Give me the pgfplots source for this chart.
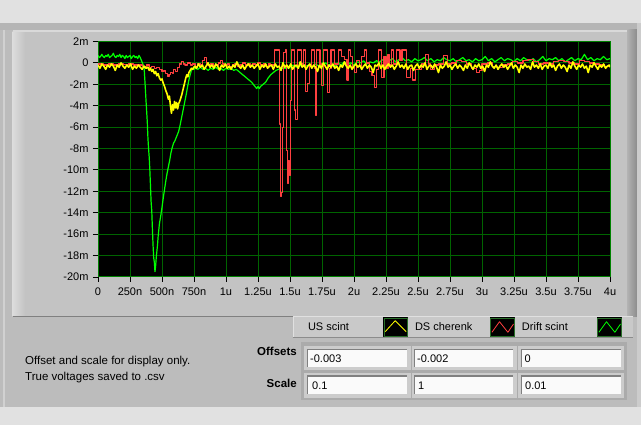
\documentclass[border=0pt]{standalone}
\usepackage{pgfplots}
\usepackage{pgfplotstable}
\pgfplotsset{compat=1.18}
\usepackage{fontspec}
\setmainfont{Liberation Sans}
\definecolor{lvbg}{RGB}{225,225,225}
\definecolor{lvpanel}{RGB}{188,188,188}
\definecolor{lvframe}{RGB}{195,195,195}
\definecolor{lvgrid}{RGB}{0,100,0}
\definecolor{lvborder}{RGB}{0,130,0}
\definecolor{lvyellow}{RGB}{255,255,0}
\definecolor{lvred}{RGB}{255,64,64}
\definecolor{lvgreen}{RGB}{0,255,0}
\definecolor{swatchedge}{RGB}{40,110,40}

\pgfplotstableread{
x y
0 0.7
10 0.5
20 0.6
30 0.8
40 0.6
50 0.5
60 0.7
70 0.6
80 0.8
90 0.5
100 0.6
110 0.7
120 0.9
130 0.6
140 0.5
150 0.7
160 0.6
170 0.8
180 0.5
190 0.7
200 0.6
210 0.4
220 0.7
230 0.5
240 0.6
250 0.7
260 0.4
270 0.6
280 0.7
290 0.5
300 0.6
310 0.4
320 0.7
330 0.5
340 0.2
350 -0.1
360 -0.4
368 -2.0
375 -3.5
380 -4.5
385 -5.5
390 -7.0
395 -8.0
400 -8.8
405 -10.0
410 -11.5
415 -13.0
420 -13.8
425 -15.5
430 -17.0
435 -18.2
440 -18.6
445 -19.5
450 -19.0
455 -18.2
460 -17.6
465 -17.0
470 -16.2
480 -15.0
490 -14.3
500 -13.5
510 -12.6
520 -11.8
530 -11.0
540 -10.3
550 -9.7
560 -9.1
570 -8.4
580 -7.9
590 -7.5
600 -7.3
610 -7.0
620 -6.7
630 -6.4
640 -5.9
650 -5.3
660 -4.7
670 -4.1
680 -3.5
690 -2.9
700 -2.2
710 -1.6
720 -1.1
730 -0.7
740 -0.5
750 -0.6
760 -0.5
780 -0.6
800 -0.4
820 -0.6
840 -0.5
860 -0.7
880 -0.5
900 -0.6
920 -0.4
940 -0.6
960 -0.5
980 -0.7
1000 -0.5
1020 -0.6
1040 -0.5
1060 -0.7
1080 -0.6
1100 -0.8
1120 -1.0
1140 -1.2
1160 -1.4
1180 -1.6
1200 -1.8
1220 -2.1
1240 -2.4
1250 -2.2
1260 -2.4
1270 -2.2
1290 -2.0
1310 -1.8
1330 -1.4
1350 -1.1
1370 -0.9
1390 -0.7
1410 -0.6
1440 -0.5
1470 -0.5
1500 -0.4
1525 -0.2
1550 -0.4
1575 -0.3
1600 -0.1
1625 -0.3
1650 -0.2
1675 -0.4
1700 -0.1
1725 -0.3
1750 -0.2
1775 0.0
1800 -0.2
1825 -0.1
1850 -0.3
1875 0.0
1900 -0.2
1925 0.1
1950 -0.1
1975 0.0
2000 -0.2
2025 0.1
2050 0.0
2075 0.2
2100 -0.1
2125 0.1
2150 0.0
2175 0.2
2200 0.1
2225 0.3
2250 0.0
2275 0.2
2300 0.4
2325 0.1
2350 0.3
2375 0.5
2400 0.2
2425 0.3
2450 0.1
2475 0.4
2500 0.2
2525 0.3
2550 0.5
2575 0.2
2600 0.4
2625 0.1
2650 0.3
2675 0.2
2700 0.5
2725 0.3
2750 0.2
2775 0.4
2800 0.1
2825 0.3
2850 0.5
2875 0.2
2900 0.3
2925 0.1
2950 0.4
2975 0.2
3000 0.3
3025 0.6
3050 0.2
3075 0.4
3100 0.1
3125 0.3
3150 0.5
3175 0.2
3200 0.4
3225 0.3
3250 0.1
3275 0.4
3300 0.2
3325 0.5
3350 0.3
3375 0.2
3400 0.4
3425 0.1
3450 0.3
3475 0.6
3500 0.2
3525 0.4
3550 0.3
3575 0.5
3600 0.2
3625 0.4
3650 0.1
3675 0.3
3700 0.5
3725 0.2
3750 0.4
3775 0.3
3800 0.8
3825 0.3
3850 0.5
3875 0.2
3900 0.4
3925 0.3
3950 0.6
3975 0.3
4000 0.4
}\greendata

\pgfplotstableread{
x y
0 -0.1
40 -0.2
80 -0.1
120 -0.2
160 -0.1
200 -0.15
240 -0.1
280 -0.2
320 -0.2
350 -0.3
380 -0.2
400 -0.4
420 -0.3
440 -0.5
460 -0.4
480 -0.6
500 -0.8
515 -0.7
530 -1.0
545 -1.3
555 -1.1
565 -0.9
580 -1.0
590 -0.6
605 -0.8
620 -0.4
635 -0.1
650 0.1
665 -0.1
680 -0.2
700 0.0
720 -0.2
740 -0.1
760 -0.3
780 -0.1
800 -0.2
815 0.2
830 0.5
845 0.0
860 -0.2
880 -0.1
900 -0.3
920 -0.2
940 0.0
955 0.2
970 -0.1
990 -0.2
1010 -0.1
1030 -0.3
1050 -0.2
1070 -0.1
1090 -0.3
1110 -0.2
1130 0.0
1150 -0.2
1170 -0.1
1190 -0.3
1210 -0.1
1230 -0.2
1250 0.0
1270 -0.2
1290 -0.1
1310 -0.3
1330 -0.1
1350 -0.2
1377 1.2
1416 -5.7
1424 -12.5
1432 -12.1
1440 -6.0
1448 1.0
1462 1.2
1472 -8.2
1478 -11.3
1486 -9.1
1494 -10.5
1502 -3.5
1512 1.2
1536 -4.4
1546 -5.3
1558 1.2
1590 -0.1
1604 1.2
1624 -2.7
1638 -1.9
1650 -0.3
1668 1.2
1690 -0.5
1698 -4.9
1708 1.2
1735 -0.1
1748 -2.1
1760 1.2
1795 -2.8
1806 -0.5
1820 1.2
1850 -0.1
1876 1.2
1900 0.6
1925 0.3
1945 -1.6
1955 1.2
1975 0.6
1990 -0.4
2005 -0.9
2020 0.2
2040 -0.3
2060 0.6
2080 1.2
2100 0.0
2120 -0.8
2140 -1.2
2160 -2.3
2175 -0.6
2190 1.2
2215 -1.4
2235 0.6
2250 -0.5
2265 0.8
2280 -0.2
2290 1.2
2310 -0.1
2330 1.2
2360 0.2
2375 1.2
2410 -1.4
2440 -0.5
2460 -1.6
2480 -0.6
2530 -0.1
2560 0.8
2580 -0.1
2600 -0.6
2630 -0.2
2660 -0.1
2700 0.7
2730 -0.1
2760 0.0
2800 0.2
2840 0.1
2880 -0.1
2920 -0.5
2960 -0.9
2980 -0.7
3000 -0.1
3040 0.0
3080 -0.3
3120 -0.4
3160 -0.2
3200 -0.1
3240 0.1
3280 0.0
3320 0.2
3360 0.3
3400 0.1
3440 -0.1
3480 0.0
3520 -0.1
3560 0.1
3600 0.2
3640 0.1
3680 0.0
3720 -0.1
3760 0.2
3800 0.1
3840 0.0
3880 -0.1
3920 -0.2
3960 -0.3
4000 -0.3
}\reddata

\pgfplotstableread{
x y
0 -0.2
15 -0.5
30 -0.1
45 -0.3
60 -0.6
75 -0.2
90 -0.4
105 -0.1
120 -0.3
135 -0.7
150 -0.2
165 -0.4
180 0.0
195 -0.3
210 -0.5
225 -0.2
240 -0.4
255 -0.1
270 -0.6
285 -0.3
300 -0.5
315 -0.2
330 -0.4
345 -0.6
360 -0.3
375 -0.5
390 -0.4
400 -0.7
410 -0.5
420 -0.8
430 -0.6
440 -1.0
450 -0.8
460 -1.2
470 -1.0
480 -1.4
490 -1.6
500 -1.5
510 -1.9
520 -2.2
530 -2.6
540 -2.9
550 -3.4
558 -3.1
566 -4.0
574 -4.7
582 -3.9
590 -4.4
598 -3.6
606 -4.2
614 -3.7
622 -4.3
630 -3.8
638 -3.6
646 -3.3
654 -3.0
662 -2.6
670 -2.2
678 -1.8
686 -1.4
694 -1.1
702 -1.3
710 -0.9
720 -0.7
730 -0.5
740 -0.6
755 -0.3
770 -0.5
785 -0.1
800 -0.4
815 -0.2
830 -0.6
845 -0.3
860 0.0
875 -0.4
890 -0.2
905 -0.5
920 -0.1
935 -0.3
950 -0.7
965 -0.2
980 -0.4
995 -0.1
1010 -0.5
1025 -0.3
1040 -0.6
1055 -0.2
1070 -0.4
1085 0.1
1100 -0.3
1115 -0.5
1130 -0.2
1145 -0.6
1160 -0.3
1175 -0.1
1190 -0.4
1205 -0.2
1220 -0.5
1235 -0.3
1250 -0.1
1265 -0.6
1280 -0.2
1295 -0.4
1310 -0.1
1325 -0.5
1340 -0.3
1355 -0.2
1370 -0.6
1385 -0.1
1400 -0.4
1415 -0.3
1430 -0.7
1445 0.0
1460 -0.4
1475 -0.2
1490 -0.5
1505 -0.1
1520 -0.6
1535 -0.3
1550 -0.2
1565 -0.5
1580 0.1
1595 -0.4
1610 -0.2
1625 -0.6
1640 -0.3
1655 -0.1
1670 -0.5
1685 -0.2
1700 -0.4
1715 -0.8
1730 -0.2
1745 -0.5
1760 0.0
1775 -0.3
1790 -0.6
1805 -0.2
1820 -0.4
1835 -0.1
1850 -0.5
1865 -0.3
1880 -0.7
1895 -0.2
1910 -0.4
1925 0.1
1940 -0.3
1955 -0.5
1970 -0.2
1985 -0.6
2000 -0.3
2015 -0.1
2030 -0.4
2045 -0.2
2060 -0.6
2075 -0.3
2090 -0.1
2105 -0.5
2120 -0.2
2135 -0.4
2150 -0.9
2165 -0.2
2180 -0.3
2195 0.0
2210 -0.5
2225 -0.2
2240 -0.6
2255 -0.3
2270 -0.1
2285 -0.4
2300 -0.2
2315 -0.6
2330 -0.3
2345 0.1
2360 -0.4
2375 -0.2
2390 -0.5
2405 -0.1
2420 -0.6
2435 -0.3
2450 -0.2
2465 -0.7
2480 -0.3
2495 -0.1
2510 -0.5
2525 -0.2
2540 -0.4
2555 0.0
2570 -0.6
2585 -0.3
2600 -0.2
2615 -0.5
2630 -0.1
2645 -0.4
2660 -0.9
2675 -0.2
2690 -0.5
2705 -0.3
2720 0.1
2735 -0.4
2750 -0.2
2765 -0.6
2780 -0.3
2795 -0.1
2810 -0.5
2825 -0.2
2840 -0.4
2855 -0.7
2870 -0.2
2885 -0.5
2900 0.0
2915 -0.3
2930 -0.6
2945 -0.2
2960 -0.4
2975 -0.1
2990 -0.5
3005 -0.3
3020 -0.8
3035 -0.2
3050 -0.4
3065 0.1
3080 -0.3
3095 -0.5
3110 -0.2
3125 -0.6
3140 -0.3
3155 -0.1
3170 -0.4
3185 -0.2
3200 -0.6
3215 -0.3
3230 0.0
3245 -0.5
3260 -0.2
3275 -0.4
3290 -0.9
3305 -0.2
3320 -0.5
3335 -0.1
3350 -0.4
3365 -0.3
3380 -0.6
3395 0.1
3410 -0.4
3425 -0.2
3440 -0.5
3455 -0.1
3470 -0.6
3485 -0.3
3500 -0.2
3515 -0.5
3530 0.0
3545 -0.4
3560 -0.2
3575 -0.7
3590 -0.3
3605 -0.1
3620 -0.5
3635 -0.2
3650 -0.4
3665 -0.8
3680 -0.2
3695 -0.5
3710 0.1
3725 -0.3
3740 -0.6
3755 -0.2
3770 -0.4
3785 -0.1
3800 -0.5
3815 -0.3
3830 -0.9
3845 -0.2
3860 -0.4
3875 0.0
3890 -0.3
3905 -0.6
3920 -0.2
3935 -0.4
3950 -0.1
3965 -0.5
3980 -0.3
3995 -0.2
4000 -0.4
}\yellowdata

\begin{document}
\begin{tikzpicture}[x=1pt,y=1pt]
\useasboundingbox (0,0) rectangle (641,425);
% backgrounds
\fill[lvbg] (0,0) rectangle (641,425);
\fill[lvpanel] (0,18) rectangle (641,402);
\fill[black!29] (0,395) rectangle (641,402);
\fill[black!18] (3,18) rectangle (5,395);
% graph frame
\fill[lvframe] (12.7,108.3) rectangle (627,395);
\shade[left color=black!14, right color=lvframe] (12.7,108.3) rectangle (25,393);
\fill[black!15] (12.7,393) rectangle (627,395);
\draw[black!50, line width=1.2pt] (12.7,108.3) -- (627,108.3);
\shade[left color=black!30, right color=black!45] (627,108.3) rectangle (637,395);
\fill[black!20] (637,18) rectangle (641,402);
% legend strip
\fill[black!21] (292.7,87) rectangle (633,109);
\draw[black!12, line width=1pt] (293.2,87) -- (293.2,108.5) -- (633,108.5);
\draw[black!45, line width=1pt] (292.7,87.3) -- (633,87.3);
% fields frame
\fill[black!33] (300.7,24.5) rectangle (626.7,83.3);
\foreach \xa/\xb in {307.7/407.3, 415/513.3, 521.7/620.7}{
  \foreach \ya/\yb in {58.3/75, 30.7/48.3}{
    \fill[black!20] (\xa-3.5,\ya-3.5) rectangle (\xb+3.5,\yb+3.5);
    \fill[black!50] (\xa-1.2,\ya) rectangle (\xb,\yb+1.2);
    \fill[white!98!black] (\xa,\ya) rectangle (\xb,\yb);
  }
}
% texts
\node[anchor=west, inner sep=0pt, font=\fontsize{11.5}{13}\selectfont] at (25,63.3) {Offset and scale for display only.};
\node[anchor=west, inner sep=0pt, font=\fontsize{11.5}{13}\selectfont] at (25,47.7) {True voltages saved to .csv};
\node[anchor=east, inner sep=0pt, font=\bfseries\fontsize{11.5}{13}\selectfont] at (297,73.5) {Offsets};
\node[anchor=east, inner sep=0pt, font=\bfseries\fontsize{11.5}{13}\selectfont] at (297,42) {Scale};
\foreach \xx/\yy/\tt in {310/66.6/{-0.003}, 417/66.6/{-0.002}, 524.5/66.6/{0}, 312/39.5/{0.1}, 418/39.5/{1}, 525/39.5/{0.01}}{
  \node[anchor=west, inner sep=0pt, font=\fontsize{11}{12}\selectfont] at (\xx,\yy) {\tt};
}

\begin{axis}[
  at={(98pt,148pt)}, anchor=south west, scale only axis,
  width=512pt, height=235.5pt,
  xmin=0, xmax=4000, ymin=-20, ymax=2,
  axis background/.style={fill=black},
  axis line style={lvborder, line width=1pt},
  xmajorgrids=true, ymajorgrids=true,
  grid style={lvgrid, line width=1pt},
  major grid style={lvgrid, line width=1pt},
  xtick={0,250,...,4000},
  xticklabels={0,250n,500n,750n,1u,1.25u,1.5u,1.75u,2u,2.25u,2.5u,2.75u,3u,3.25u,3.5u,3.75u,4u},
  ytick={-20,-18,...,2},
  yticklabels={-20m,-18m,-16m,-14m,-12m,-10m,-8m,-6m,-4m,-2m,0,2m},
  xtick pos=bottom, ytick pos=left, tick align=outside,
  major tick length=5pt, tick style={black, line width=0.9pt},
  ticklabel style={font=\fontsize{11}{12}\selectfont, text=black},
  xticklabel style={yshift=-2pt},
  yticklabel style={xshift=-1pt},
  legend columns=3, legend plot pos=right, legend cell align=left,
  legend style={at={(0.41016,-0.21444)}, anchor=west, draw=none, fill=none,
    inner sep=0pt, outer sep=0pt, font=\fontsize{11}{12}\selectfont,
    nodes={inner sep=0pt},
    /tikz/every even column/.append style={column sep=7pt}},
  every axis plot/.append style={line width=1pt, line join=round},
]
\addlegendimage{lvyellow, legend image code/.code={
  \fill[black] (0pt,-9.5pt) rectangle (24pt,9.5pt);
  \draw[swatchedge, line width=0.8pt] (0.4pt,-9.1pt) rectangle (23.6pt,9.1pt);
  \draw[lvyellow, line width=0.8pt] (1.7pt,-4.2pt) -- (11.7pt,6.8pt) -- (22.7pt,-4.2pt);}}
\addlegendentry{\makebox[75pt][l]{US scint}}
\addlegendimage{lvred, legend image code/.code={
  \fill[black] (0pt,-9.5pt) rectangle (24pt,9.5pt);
  \draw[swatchedge, line width=0.8pt] (0.4pt,-9.1pt) rectangle (23.6pt,9.1pt);
  \draw[lvred, line width=0.8pt] (1.4pt,-4.8pt) -- (9pt,5.8pt) -- (17.4pt,-4.8pt) -- (23pt,3.5pt);}}
\addlegendentry{\makebox[75pt][l]{DS cherenk}}
\addlegendimage{lvgreen, legend image code/.code={
  \fill[black] (0pt,-9.5pt) rectangle (24pt,9.5pt);
  \draw[swatchedge, line width=0.8pt] (0.4pt,-9.1pt) rectangle (23.6pt,9.1pt);
  \draw[lvgreen, line width=0.8pt] (1.4pt,-4.8pt) -- (9pt,5.8pt) -- (17.4pt,-4.8pt) -- (23pt,3.5pt);}}
\addlegendentry{\makebox[75pt][l]{Drift scint}}

\addplot[lvgreen, line width=1.2pt, forget plot] table[x=x, y=y] {\greendata};
\addplot[lvred, line width=1.2pt, const plot, forget plot] table[x=x, y=y] {\reddata};
\addplot[lvyellow, line width=1.6pt, forget plot] table[x=x, y=y] {\yellowdata};
\end{axis}
\end{tikzpicture}
\end{document}
